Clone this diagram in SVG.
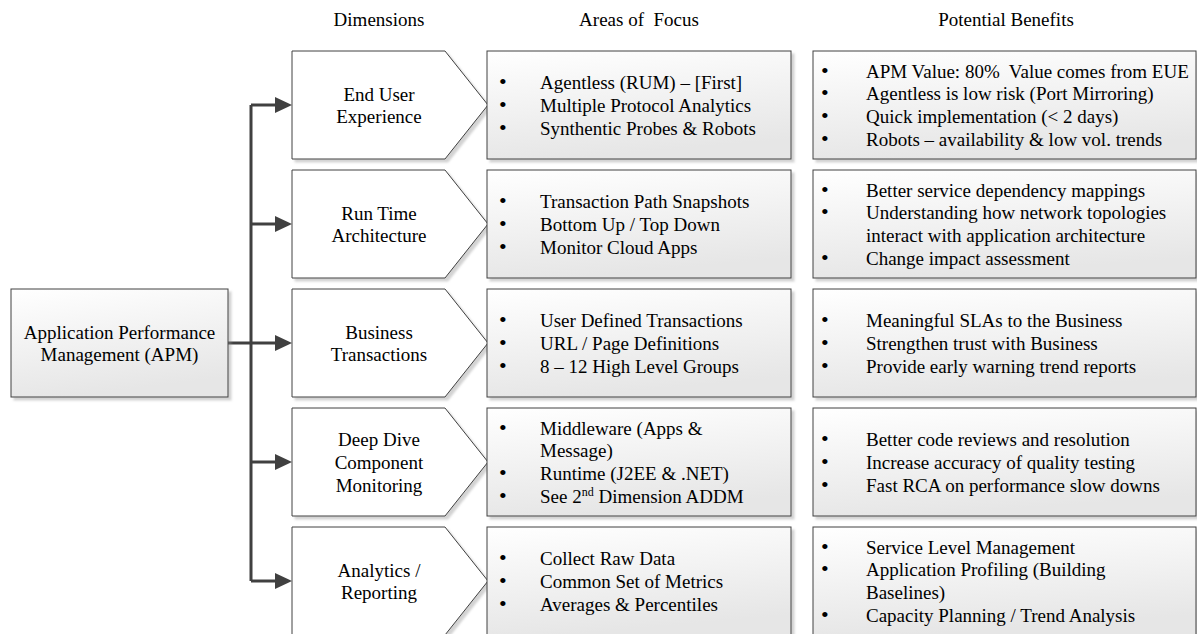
<svg xmlns="http://www.w3.org/2000/svg" width="1197" height="634" viewBox="0 0 1197 634" font-family="'Liberation Serif', 'Times New Roman', serif">
  <defs>
    <linearGradient id="boxFill" x1="0" y1="0" x2="0.25" y2="1">
      <stop offset="0" stop-color="#ffffff"/>
      <stop offset="1" stop-color="#e6e6e6"/>
    </linearGradient>
    <filter id="shadow" x="-5%" y="-5%" width="115%" height="120%">
      <feDropShadow dx="3" dy="3" stdDeviation="1.2" flood-color="#909090" flood-opacity="0.4"/>
    </filter>
    <marker id="arrow" markerUnits="userSpaceOnUse" markerWidth="18" markerHeight="17" refX="0" refY="8" orient="auto">
      <path d="M0,0 L17,8 L0,16 z" fill="#404040"/>
    </marker>
  </defs>
  <style>
    text { font-family: "Liberation Serif", "Times New Roman", serif; font-size: 19px; fill: #000; }
    .c { text-anchor: middle; }
    .b { font-size: 22px; }
    .box { fill: url(#boxFill); stroke: #404040; stroke-width: 1; filter: url(#shadow); }
    .dim { fill: #ffffff; stroke: #404040; stroke-width: 1; filter: url(#shadow); }
    .wire { fill: none; stroke: #404040; stroke-width: 3; }
    .pre { white-space: pre; }
  </style>

  <!-- column headings -->
  <g id="headings">
    <text class="c" x="379" y="25.5">Dimensions</text>
    <text class="c pre" x="639" y="25.5">Areas of  Focus</text>
    <text class="c" x="1006" y="25.5">Potential Benefits</text>
  </g>

  <!-- connectors -->
  <g id="connectors">
    <path class="wire" d="M251,105 V581"/>
    <path class="wire" d="M228,343 H275" marker-end="url(#arrow)"/>
    <path class="wire" d="M251,105 H275" marker-end="url(#arrow)"/>
    <path class="wire" d="M251,224 H275" marker-end="url(#arrow)"/>
    <path class="wire" d="M251,462 H275" marker-end="url(#arrow)"/>
    <path class="wire" d="M251,581 H275" marker-end="url(#arrow)"/>
  </g>

  <!-- root node -->
  <g id="apm">
    <rect class="box" x="11" y="289" width="217" height="108"/>
    <text class="c" x="119.5" y="338.5">Application Performance</text>
    <text class="c" x="119.5" y="361.3">Management (APM)</text>
  </g>

  <!-- row 1 -->
  <g id="dim-eue">
    <path class="dim" d="M292,51 H445 L488,105 L445,159 H292 Z"/>
    <text class="c" x="379" y="100.5">End User</text>
    <text class="c" x="379" y="123.3">Experience</text>
  </g>
  <g id="focus-eue">
    <rect class="box" x="487" y="51" width="304" height="108"/>
    <text class="b" x="499" y="89.1">•</text><text x="540" y="89.1">Agentless (RUM) – [First]</text>
    <text class="b" x="499" y="111.9">•</text><text x="540" y="111.9">Multiple Protocol Analytics</text>
    <text class="b" x="499" y="134.7">•</text><text x="540" y="134.7">Synthentic Probes &amp; Robots</text>
  </g>
  <g id="benefit-eue">
    <rect class="box" x="813" y="51" width="383" height="108"/>
    <text class="b" x="821" y="77.5">•</text><text class="pre" x="866" y="77.5">APM Value: 80%  Value comes from EUE</text>
    <text class="b" x="821" y="100.3">•</text><text x="866" y="100.3">Agentless is low risk (Port Mirroring)</text>
    <text class="b" x="821" y="123.1">•</text><text x="866" y="123.1">Quick implementation (&lt; 2 days)</text>
    <text class="b" x="821" y="145.9">•</text><text x="866" y="145.9">Robots – availability &amp; low vol. trends</text>
  </g>

  <!-- row 2 -->
  <g id="dim-rta">
    <path class="dim" d="M292,170 H445 L488,224 L445,278 H292 Z"/>
    <text class="c" x="379" y="219.5">Run Time</text>
    <text class="c" x="379" y="242.3">Architecture</text>
  </g>
  <g id="focus-rta">
    <rect class="box" x="487" y="170" width="304" height="108"/>
    <text class="b" x="499" y="208.1">•</text><text x="540" y="208.1">Transaction Path Snapshots</text>
    <text class="b" x="499" y="230.9">•</text><text x="540" y="230.9">Bottom Up / Top Down</text>
    <text class="b" x="499" y="253.7">•</text><text x="540" y="253.7">Monitor Cloud Apps</text>
  </g>
  <g id="benefit-rta">
    <rect class="box" x="813" y="170" width="383" height="108"/>
    <text class="b" x="821" y="196.5">•</text><text x="866" y="196.5">Better service dependency mappings</text>
    <text class="b" x="821" y="219.3">•</text><text x="866" y="219.3">Understanding how network topologies</text>
    <text x="866" y="242.1">interact with application architecture</text>
    <text class="b" x="821" y="264.9">•</text><text x="866" y="264.9">Change impact assessment</text>
  </g>

  <!-- row 3 -->
  <g id="dim-bt">
    <path class="dim" d="M292,289 H445 L488,343 L445,397 H292 Z"/>
    <text class="c" x="379" y="338.5">Business</text>
    <text class="c" x="379" y="361.3">Transactions</text>
  </g>
  <g id="focus-bt">
    <rect class="box" x="487" y="289" width="304" height="108"/>
    <text class="b" x="499" y="327.1">•</text><text x="540" y="327.1">User Defined Transactions</text>
    <text class="b" x="499" y="349.9">•</text><text x="540" y="349.9">URL / Page Definitions</text>
    <text class="b" x="499" y="372.7">•</text><text x="540" y="372.7">8 – 12 High Level Groups</text>
  </g>
  <g id="benefit-bt">
    <rect class="box" x="813" y="289" width="383" height="108"/>
    <text class="b" x="821" y="327.1">•</text><text x="866" y="327.1">Meaningful SLAs to the Business</text>
    <text class="b" x="821" y="349.9">•</text><text x="866" y="349.9">Strengthen trust with Business</text>
    <text class="b" x="821" y="372.7">•</text><text x="866" y="372.7">Provide early warning trend reports</text>
  </g>

  <!-- row 4 -->
  <g id="dim-ddcm">
    <path class="dim" d="M292,408 H445 L488,462 L445,516 H292 Z"/>
    <text class="c" x="379" y="446.1">Deep Dive</text>
    <text class="c" x="379" y="468.9">Component</text>
    <text class="c" x="379" y="491.7">Monitoring</text>
  </g>
  <g id="focus-ddcm">
    <rect class="box" x="487" y="408" width="304" height="108"/>
    <text class="b" x="499" y="434.5">•</text><text x="540" y="434.5">Middleware (Apps &amp;</text>
    <text x="540" y="457.3">Message)</text>
    <text class="b" x="499" y="480.1">•</text><text x="540" y="480.1">Runtime (J2EE &amp; .NET)</text>
    <text class="b" x="499" y="502.9">•</text><text x="540" y="502.9">See 2<tspan font-size="12" dy="-7">nd</tspan><tspan dy="7"> Dimension ADDM</tspan></text>
  </g>
  <g id="benefit-ddcm">
    <rect class="box" x="813" y="408" width="383" height="108"/>
    <text class="b" x="821" y="446.1">•</text><text x="866" y="446.1">Better code reviews and resolution</text>
    <text class="b" x="821" y="468.9">•</text><text x="866" y="468.9">Increase accuracy of quality testing</text>
    <text class="b" x="821" y="491.7">•</text><text x="866" y="491.7">Fast RCA on performance slow downs</text>
  </g>

  <!-- row 5 -->
  <g id="dim-ar">
    <path class="dim" d="M292,527 H445 L488,581 L445,635 H292 Z"/>
    <text class="c" x="379" y="576.5">Analytics /</text>
    <text class="c" x="379" y="599.3">Reporting</text>
  </g>
  <g id="focus-ar">
    <rect class="box" x="487" y="527" width="304" height="108"/>
    <text class="b" x="499" y="565.1">•</text><text x="540" y="565.1">Collect Raw Data</text>
    <text class="b" x="499" y="587.9">•</text><text x="540" y="587.9">Common Set of Metrics</text>
    <text class="b" x="499" y="610.7">•</text><text x="540" y="610.7">Averages &amp; Percentiles</text>
  </g>
  <g id="benefit-ar">
    <rect class="box" x="813" y="527" width="383" height="108"/>
    <text class="b" x="821" y="553.5">•</text><text x="866" y="553.5">Service Level Management</text>
    <text class="b" x="821" y="576.3">•</text><text x="866" y="576.3">Application Profiling (Building</text>
    <text x="866" y="599.1">Baselines)</text>
    <text class="b" x="821" y="621.9">•</text><text x="866" y="621.9">Capacity Planning / Trend Analysis</text>
  </g>
</svg>
